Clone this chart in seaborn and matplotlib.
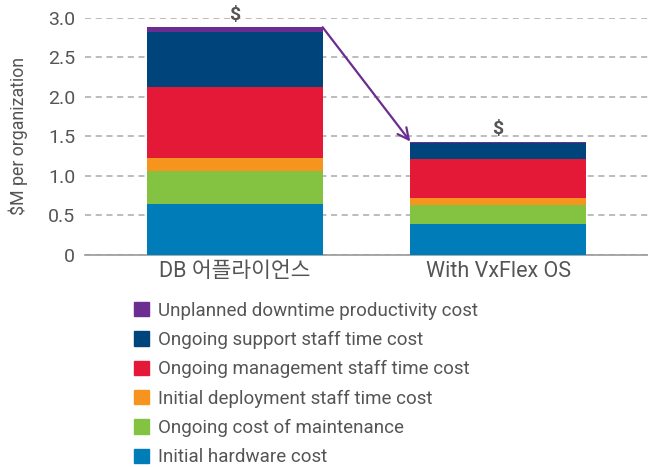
import numpy as np
import pandas as pd
import matplotlib
matplotlib.use("Agg")
import matplotlib.pyplot as plt
import seaborn as sns
from matplotlib.patches import Patch

sns.set_style("white")
plt.rcParams['font.family'] = ['Roboto', 'Noto Sans CJK KR', 'DejaVu Sans']

# data (bottom to top), $M per organization
scenarios = ["DB 어플라이언스", "With VxFlex OS"]
series_names = ["Initial hardware cost",
                "Ongoing cost of maintenance",
                "Initial deployment staff time cost",
                "Ongoing management staff time cost",
                "Ongoing support staff time cost",
                "Unplanned downtime productivity cost"]
hardware = [0.645, 0.39]
maintenance = [0.415, 0.245]
deployment = [0.17, 0.085]
management = [0.90, 0.495]
support = [0.69, 0.205]
downtime = [0.06, 0.015]
colors = ["#007DB8", "#84C341", "#F7941D", "#E31937", "#00447C", "#6B2D90"]

df = pd.DataFrame({"scenario": scenarios})
layers = [hardware, maintenance, deployment, management, support, downtime]
cum = np.cumsum(np.array(layers), axis=0)

fig = plt.figure(figsize=(6.48, 4.67), dpi=100)
ax = fig.add_axes([0.131, 0.454, 0.869, 0.508])

bar_w = 0.667
# draw cumulative heights from the top layer down so each covers the one above
for i in range(len(layers) - 1, -1, -1):
    df["val"] = cum[i]
    sns.barplot(data=df, x="scenario", y="val", color=colors[i], saturation=1,
                width=bar_w, ax=ax, zorder=3, linewidth=0, edgecolor="none")

ax.set_ylim(0, 3.0)
ax.set_xlim(-0.57, 1.57)
ax.set_yticks([0, 0.5, 1.0, 1.5, 2.0, 2.5, 3.0])
ax.set_yticklabels(["0", "0.5", "1.0", "1.5", "2.0", "2.5", "3.0"])
ax.yaxis.grid(True, linestyle=(0, (4, 3)), color="#aaaaaa", lw=1.1, zorder=0)
ax.set_axisbelow(True)
for s in ["top", "right", "left"]:
    ax.spines[s].set_visible(False)
ax.spines["bottom"].set_color("#999999")
ax.spines["bottom"].set_linewidth(1.2)
ax.tick_params(axis="both", length=0, colors="#555555")
ax.tick_params(axis="x", labelsize=15.5, pad=4)
ax.tick_params(axis="y", labelsize=14, pad=7)
ax.set_xlabel("")
ax.set_ylabel(r"\$M per organization", color="#555555", fontsize=12.8, labelpad=14)

totals = cum[-1]
ax.annotate("", xy=(1 - bar_w / 2, totals[1]), xytext=(bar_w / 2, totals[0]),
            arrowprops=dict(arrowstyle="->", color="#6B2D90", lw=1.6,
                            mutation_scale=20, shrinkA=0, shrinkB=0),
            zorder=5)
for i, t in enumerate(totals):
    ax.text(i, t + 0.04, "$", ha="center", va="bottom",
            fontsize=14, fontweight="bold", color="#555555", clip_on=False)

handles = [Patch(color=colors[i]) for i in range(len(layers) - 1, -1, -1)]
labels = series_names[::-1]
fig.legend(handles, labels, loc="upper left", bbox_to_anchor=(0.207, 0.354),
           frameon=False, fontsize=13.5, handlelength=0.8, handleheight=0.8,
           handletextpad=0.45, labelspacing=0.6, labelcolor="#555555",
           borderaxespad=0, borderpad=0)

fig.savefig("out.png", dpi=100)
